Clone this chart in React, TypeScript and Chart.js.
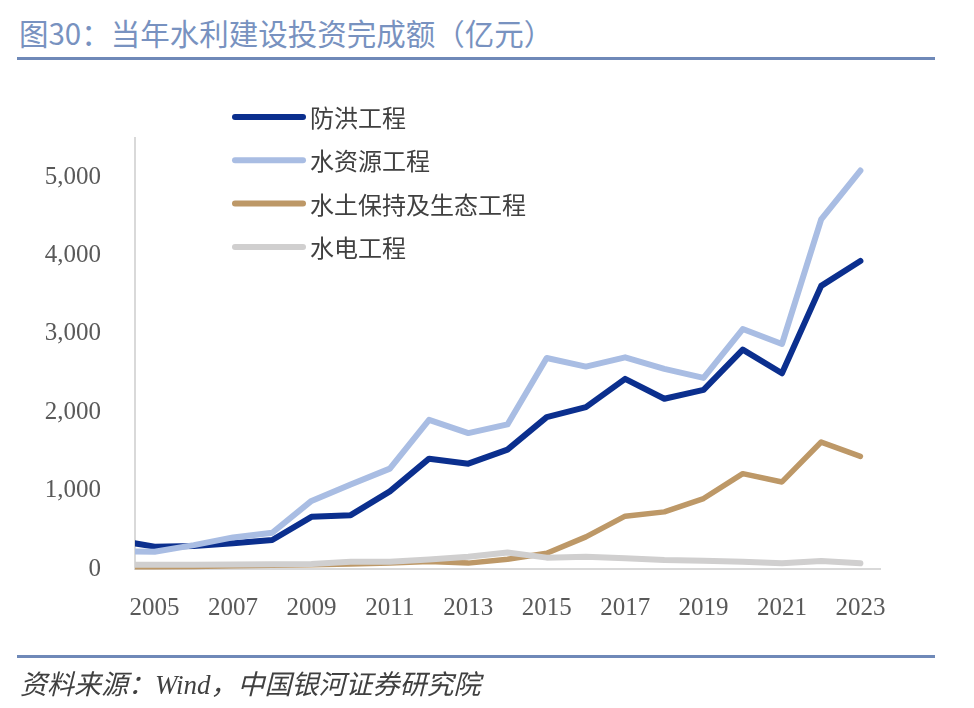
import React, { useEffect, useRef } from "react";
import { Chart, registerables } from "chart.js";

Chart.register(...registerables);

// ---- data (亿元) ----
const years = [2004, 2005, 2006, 2007, 2008, 2009, 2010, 2011, 2012, 2013, 2014, 2015, 2016, 2017, 2018, 2019, 2020, 2021, 2022, 2023];
const tickYears = [2005, 2007, 2009, 2011, 2013, 2015, 2017, 2019, 2021, 2023];
const yTickValues = [0, 1000, 2000, 3000, 4000, 5000];
const seriesNames = ["防洪工程", "水资源工程", "水土保持及生态工程", "水电工程"];
const floodControl = [370, 285, 295, 330, 370, 666, 687, 990, 1408, 1344, 1523, 1938, 2065, 2426, 2172, 2286, 2799, 2498, 3613, 3931];
const waterResources = [225, 220, 305, 403, 462, 869, 1077, 1281, 1904, 1734, 1845, 2693, 2583, 2701, 2553, 2439, 3062, 2871, 4461, 5085];
const soilEcology = [30, 28, 32, 40, 48, 55, 65, 78, 95, 75, 125, 200, 410, 674, 729, 899, 1217, 1111, 1620, 1438];
const hydropower = [55, 55, 55, 57, 62, 65, 93, 93, 120, 157, 210, 145, 157, 136, 115, 106, 93, 72, 102, 72];

const seriesValues = [floodControl, waterResources, soilEcology, hydropower];
const seriesColors = ["#0B2F8E", "#A9BDE3", "#BD9867", "#D0CFCF"];
const seriesWidths = [6, 6, 5.5, 6];
const seriesOrder = [3, 2, 1, 0];

const legendPlugin = {
  id: "verticalLegend",
  afterDraw(chart: any) {
    const ctx = chart.ctx;
    ctx.save();
    chart.data.datasets.forEach((ds: any, i: number) => {
      const y = 117 + i * 43.3;
      ctx.strokeStyle = ds.borderColor;
      ctx.lineWidth = 6;
      ctx.lineCap = "round";
      ctx.beginPath();
      ctx.moveTo(235, y);
      ctx.lineTo(303, y);
      ctx.stroke();
      ctx.fillStyle = "#404040";
      ctx.font = "24px 'Noto Sans CJK SC'";
      ctx.textBaseline = "middle";
      ctx.textAlign = "left";
      ctx.fillText(ds.label, 310, y + 1);
    });
    ctx.restore();
  },
};

export default function App() {
  const canvasRef = useRef<HTMLCanvasElement | null>(null);

  useEffect(() => {
    if (!canvasRef.current) return;
    const chart = new Chart(canvasRef.current, {
      type: "line",
      data: {
        datasets: seriesNames.map((name, i) => ({
          label: name,
          data: years.map((yr, j) => ({ x: yr, y: seriesValues[i][j] })),
          borderColor: seriesColors[i],
          backgroundColor: seriesColors[i],
          borderWidth: seriesWidths[i],
          pointRadius: 0,
          pointHoverRadius: 0,
          tension: 0,
          fill: false,
          borderCapStyle: "round",
          borderJoinStyle: "round",
          order: seriesOrder[i],
          clip: { left: 0, right: 10, top: 10, bottom: 10 },
        })) as any,
      },
      options: {
        responsive: false,
        animation: false,
        events: [],
        layout: { padding: { left: 0, top: 138, right: 94, bottom: 79 } },
        plugins: {
          legend: { display: false },
          tooltip: { enabled: false },
          title: { display: false },
        },
        scales: {
          x: {
            type: "linear",
            min: 2004.5,
            max: 2023.5,
            afterBuildTicks: (s: any) => {
              s.ticks = tickYears.map((v) => ({ value: v }));
            },
            afterFit: (s: any) => {
              s.height = 60;
            },
            grid: { display: false, drawTicks: false },
            border: { display: true, color: "#D9D9D9", width: 2 },
            ticks: {
              autoSkip: false,
              maxRotation: 0,
              padding: 24,
              color: "#595959",
              font: { family: "'Liberation Serif'", size: 25 },
              callback: (v: any) => String(v),
            },
          },
          y: {
            type: "linear",
            min: 0,
            max: 5500,
            afterBuildTicks: (s: any) => {
              s.ticks = yTickValues.map((v) => ({ value: v }));
            },
            afterFit: (s: any) => {
              s.width = 135;
            },
            grid: { display: false, drawTicks: false },
            border: { display: true, color: "#D9D9D9", width: 2 },
            ticks: {
              padding: 34,
              color: "#595959",
              font: { family: "'Liberation Serif'", size: 25 },
              callback: (v: any) => Number(v).toLocaleString("en-US"),
            },
          },
        },
      },
      plugins: [legendPlugin],
    });
    return () => chart.destroy();
  }, []);

  return (
    <div
      style={{
        position: "fixed",
        left: 0,
        top: 0,
        width: 974,
        height: 708,
        background: "#ffffff",
        overflow: "hidden",
      }}
    >
      <div
        style={{
          position: "absolute",
          left: 19,
          top: 17,
          fontFamily: "'Noto Sans CJK SC', sans-serif",
          fontSize: 29.5,
          lineHeight: "30px",
          color: "#7892C0",
          whiteSpace: "nowrap",
        }}
      >
        图30：当年水利建设投资完成额（亿元）
      </div>
      <div
        style={{
          position: "absolute",
          left: 17,
          top: 57,
          width: 918,
          height: 3,
          background: "#6F89B8",
        }}
      />
      <canvas
        ref={canvasRef}
        width={974}
        height={708}
        style={{ position: "absolute", left: 0, top: 0 }}
      />
      <div
        style={{
          position: "absolute",
          left: 17,
          top: 655,
          width: 918,
          height: 3,
          background: "#6F89B8",
        }}
      />
      <div
        style={{
          position: "absolute",
          left: 20,
          top: 670,
          fontFamily: "'Liberation Serif', 'Noto Sans CJK SC', serif",
          fontStyle: "italic",
          fontSize: 27,
          lineHeight: "30px",
          color: "#404040",
          whiteSpace: "nowrap",
        }}
      >
        资料来源：Wind，中国银河证券研究院
      </div>
    </div>
  );
}
